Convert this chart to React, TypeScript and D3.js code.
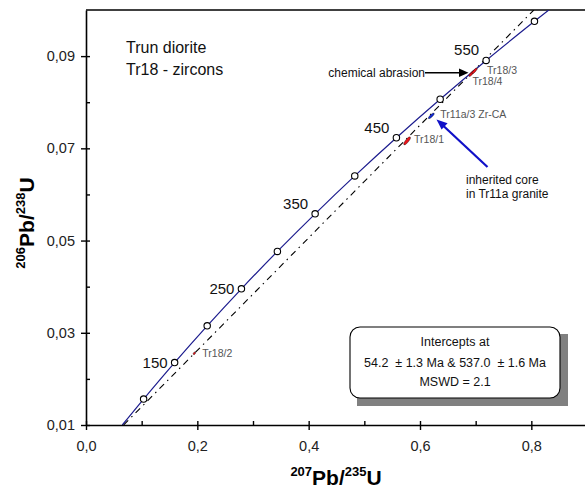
import React, { useEffect, useRef } from 'react';
import * as d3 from 'd3';

// concordia age markers (Ma) and their ratios
const markerAges = [100, 150, 200, 250, 300, 350, 400, 450, 500, 550, 600];
const markerX = [0.1035, 0.1592, 0.2177, 0.2792, 0.3438, 0.4116, 0.4828, 0.5576, 0.6362, 0.7188, 0.8056];
const markerY = [0.01563, 0.02354, 0.03151, 0.03954, 0.04764, 0.0558, 0.06402, 0.0723, 0.08065, 0.08906, 0.09754];
const labelledAges = [150, 250, 350, 450, 550];

// ends of the concordia where it leaves the frame
const concordiaStart = [0.0652, 0.01];
const concordiaEnd = [0.8314, 0.1];

// discordia through 54.2 and 537.0 Ma
const discordiaX = [0.0676, 0.8045];
const discordiaY = [0.01, 0.1];

// analyses
const sampleNames = ['Tr18/1', 'Tr18/2', 'Tr18/4', 'Tr18/3', 'Tr11a/3 Zr-CA'];
const sampleX = [0.5768, 0.1946, 0.6925, 0.698, 0.6203];
const sampleY = [0.07162, 0.02554, 0.08621, 0.0868, 0.07704];
const sampleErrX = [0.0055, 0.0016, 0.0045, 0.0045, 0.005];
const sampleErrY = [0.00085, 0.00024, 0.0006, 0.0006, 0.00058];
const sampleGroup = ['Tr18', 'Tr18', 'Tr18', 'Tr18', 'Tr11a'];

const xMajor = [0, 0.2, 0.4, 0.6, 0.8];
const xMinor = [0.1, 0.3, 0.5, 0.7];
const yMajor = [0.01, 0.03, 0.05, 0.07, 0.09];
const yMinor = [0.02, 0.04, 0.06, 0.08];

const W = 585;
const H = 490;
const margin = { left: 86, top: 10, right: -2, bottom: 65 };
const font = 'Liberation Sans, Arial, Helvetica, sans-serif';

// label offsets next to each sample ellipse
const sampleLabelOffset: Record<string, [number, number]> = {
  'Tr18/1': [7, 2],
  'Tr18/2': [8, 4],
  'Tr18/3': [12.5, 3],
  'Tr18/4': [1, 11.5],
  'Tr11a/3 Zr-CA': [9, 2],
};

const App = () => {
  const leftRef = useRef<SVGGElement>(null);
  const leftInRef = useRef<SVGGElement>(null);
  const bottomRef = useRef<SVGGElement>(null);
  const bottomInRef = useRef<SVGGElement>(null);

  const x = d3.scaleLinear().domain([0, 0.9]).range([margin.left, W - margin.right]);
  const y = d3.scaleLinear().domain([0.01, 0.1]).range([H - margin.bottom, margin.top]);

  useEffect(() => {
    const fmtY = (d: any) => d3.format('.2f')(d).replace('.', ',');
    const fmtX = (d: any) => d3.format('.1f')(d).replace('.', ',');

    const left = d3.select(leftRef.current!);
    left.selectAll('*').remove();
    left.call(d3.axisLeft(y).tickValues(yMajor).tickSize(5).tickSizeOuter(0).tickPadding(6).tickFormat(fmtY));
    left.select('.domain').attr('stroke-width', 1.6);

    const leftIn = d3.select(leftInRef.current!);
    leftIn.selectAll('*').remove();
    leftIn.call(d3.axisRight(y).tickValues([...yMajor, ...yMinor]).tickSize(4).tickSizeOuter(0).tickFormat(() => ''));
    leftIn.select('.domain').remove();

    const bottom = d3.select(bottomRef.current!);
    bottom.selectAll('*').remove();
    bottom.call(d3.axisBottom(x).tickValues(xMajor).tickSize(5).tickSizeOuter(0).tickPadding(11).tickFormat(fmtX));
    bottom.select('.domain').attr('stroke-width', 1.6);

    const bottomIn = d3.select(bottomInRef.current!);
    bottomIn.selectAll('*').remove();
    bottomIn.call(d3.axisTop(x).tickValues([...xMajor, ...xMinor]).tickSize(4).tickSizeOuter(0).tickFormat(() => ''));
    bottomIn.select('.domain').remove();

    [left, leftIn, bottom, bottomIn].forEach(g => {
      g.selectAll('.tick line').attr('stroke-width', 1.4);
      g.selectAll('text').attr('font-size', 14.5).attr('font-family', font).attr('fill', '#222');
    });
  }, []);

  const concordiaPts: [number, number][] = [
    [concordiaStart[0], concordiaStart[1]],
    ...markerX.map((d, i) => [d, markerY[i]] as [number, number]),
    [concordiaEnd[0], concordiaEnd[1]],
  ];
  const line = d3.line<[number, number]>().x(d => x(d[0])).y(d => y(d[1])).curve(d3.curveCatmullRom);

  const discordia = d3.line<number>().x(d => x(discordiaX[d])).y(d => y(discordiaY[d]))([0, 1]);

  return (
    <svg width={W} height={H} style={{ position: 'absolute', left: 0, top: 0 }} fontFamily={font}>
      <defs>
        <clipPath id="plot">
          <rect x={margin.left} y={margin.top} width={W - margin.left - margin.right} height={H - margin.top - margin.bottom} />
        </clipPath>
      </defs>

      {/* frame */}
      <line x1={margin.left} x2={W - margin.right} y1={y(0.1)} y2={y(0.1)} stroke="#000" strokeWidth={1.6} />
      <line x1={W - margin.right} x2={W - margin.right} y1={y(0.1)} y2={y(0.01)} stroke="#000" strokeWidth={1.6} />

      <g clipPath="url(#plot)">
        <path d={discordia!} fill="none" stroke="#000" strokeWidth={1.1} strokeDasharray="6.5,4.5,1.5,4.5" />
        <path d={line(concordiaPts)!} fill="none" stroke="#1c1c8e" strokeWidth={1.2} />

        {sampleNames.map((name, i) => {
          const cx = x(sampleX[i]);
          const cy = y(sampleY[i]);
          const dx = x(sampleX[i] + sampleErrX[i]) - cx;
          const dy = y(sampleY[i] + sampleErrY[i]) - cy;
          const rx = Math.hypot(dx, dy);
          const ry = Math.max(1, rx * 0.32);
          const ang = (Math.atan2(dy, dx) * 180) / Math.PI;
          return (
            <ellipse
              key={name}
              cx={cx}
              cy={cy}
              rx={rx}
              ry={ry}
              transform={`rotate(${ang} ${cx} ${cy})`}
              fill={sampleGroup[i] === 'Tr18' ? '#e8141a' : '#1029d8'}
              stroke="#000"
              strokeWidth={0.35}
            />
          );
        })}

        {markerX.map((d, i) => (
          <circle key={markerAges[i]} cx={x(d)} cy={y(markerY[i])} r={3.2} fill="#fff" stroke="#000" strokeWidth={1.1} />
        ))}
      </g>

      {markerAges.map((age, i) =>
        labelledAges.includes(age) ? (
          <text
            key={age}
            x={x(markerX[i]) - 7}
            y={y(markerY[i]) + (age < 300 ? 5 : -5)}
            textAnchor="end"
            fontSize={15}
            fill="#111"
          >
            {age}
          </text>
        ) : null
      )}

      {sampleNames.map((name, i) => (
        <text
          key={name}
          x={x(sampleX[i]) + sampleLabelOffset[name][0]}
          y={y(sampleY[i]) + sampleLabelOffset[name][1]}
          fontSize={10.5}
          fill="#555"
        >
          {name}
        </text>
      ))}

      <g ref={leftInRef} transform={`translate(${margin.left},0)`} />
      <g ref={bottomInRef} transform={`translate(0,${H - margin.bottom})`} />
      <g ref={leftRef} transform={`translate(${margin.left},0)`} />
      <g ref={bottomRef} transform={`translate(0,${H - margin.bottom})`} />

      {/* titles */}
      <text x={126} y={53} fontSize={16} fill="#111">Trun diorite</text>
      <text x={126} y={75} fontSize={16} fill="#111">Tr18 - zircons</text>

      {/* chemical abrasion arrow */}
      <text x={425} y={76.5} fontSize={12} textAnchor="end" fill="#111">chemical abrasion</text>
      <line x1={425} x2={461} y1={72.7} y2={72.7} stroke="#000" strokeWidth={1.5} />
      <path d="M468.5,72.7 L459,68.5 L459,76.9 Z" fill="#000" />

      {/* inherited core arrow */}
      <line x1={487.5} y1={167} x2={443} y2={125.5} stroke="#1010c8" strokeWidth={2.2} />
      <path d="M436.5,119.5 L447.6,123.2 L441.6,129.6 Z" fill="#1010c8" />
      <text x={466} y={183.5} fontSize={12} fill="#111">inherited core</text>
      <text x={466} y={198} fontSize={12} fill="#111">in Tr11a granite</text>

      {/* intercept box */}
      <rect x={357} y={334} width={211} height={72} fill="#808080" />
      <rect x={350} y={327} width={210} height={71} rx={10} ry={10} fill="#fff" stroke="#000" strokeWidth={1.1} />
      <text x={455} y={346} fontSize={12.5} textAnchor="middle" fill="#111">Intercepts at</text>
      <text x={455} y={366.5} fontSize={12.5} textAnchor="middle" fill="#111" style={{ whiteSpace: 'pre' }}>
        {'54.2  ± 1.3 Ma & 537.0  ± 1.6 Ma'}
      </text>
      <text x={455} y={386} fontSize={12.5} textAnchor="middle" fill="#111">MSWD = 2.1</text>

      {/* axis titles */}
      <text x={336} y={485} fontSize={21} fontWeight="bold" textAnchor="middle" fill="#000">
        <tspan fontSize={13} dy={-9}>207</tspan>
        <tspan dy={9}>Pb/</tspan>
        <tspan fontSize={13} dy={-9}>235</tspan>
        <tspan dy={9}>U</tspan>
      </text>
      <text
        transform="translate(34,223) rotate(-90)"
        fontSize={21}
        fontWeight="bold"
        textAnchor="middle"
        fill="#000"
      >
        <tspan fontSize={13} dy={-9}>206</tspan>
        <tspan dy={9}>Pb/</tspan>
        <tspan fontSize={13} dy={-9}>238</tspan>
        <tspan dy={9}>U</tspan>
      </text>
    </svg>
  );
};

export default App;
